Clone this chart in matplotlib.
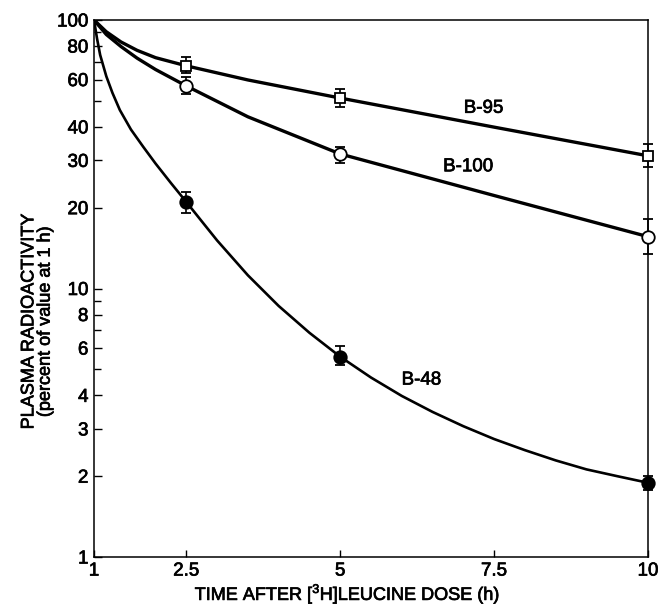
import matplotlib
matplotlib.use("Agg")
import matplotlib.pyplot as plt
import matplotlib.patheffects as pe
import numpy as np
from matplotlib.ticker import FixedLocator, NullFormatter

plt.rcParams['font.family'] = ['Liberation Sans', 'DejaVu Sans']
plt.rcParams['mathtext.fontset'] = 'custom'
plt.rcParams['mathtext.rm'] = 'Liberation Sans'

# measured points (mean, lower and upper end of error bar)
time = [2.5, 5, 10]
b95 = [67.4, 51.2, 31.2]
b95_lo = [63.5, 47.4, 28.3]
b95_hi = [72.8, 55.3, 34.5]
b100 = [56.8, 31.7, 15.6]
b100_lo = [53.0, 29.3, 13.4]
b100_hi = [61.3, 33.6, 18.1]
b48 = [21.0, 5.57, 1.89]
b48_lo = [19.1, 5.19, 1.78]
b48_hi = [22.9, 6.1, 2.0]

# drawn curves
b95_cx = [1.0, 1.2, 1.44, 1.7, 2.0, 2.5, 3.5, 5.0, 7.5, 10.0]
b95_cy = [100, 90.4, 82.8, 77.1, 72.4, 67.5, 59.8, 51.2, 39.9, 31.2]
b100_cx = [1.0, 1.2, 1.44, 1.7, 2.0, 2.5, 3.5, 5.0, 7.5, 10.0]
b100_cy = [100, 88.3, 79.6, 72.1, 65.4, 56.8, 43.6, 31.7, 22.2, 15.6]
b48_cx = [1.0, 1.05, 1.1, 1.2, 1.3, 1.42, 1.6, 1.8, 2.0, 2.25, 2.5, 2.75, 3.0,
          3.5, 4.0, 4.5, 5.0, 5.5, 6.0, 6.5, 7.0, 7.5, 8.0, 8.5, 9.0, 9.5, 10.0]
b48_cy = [100, 85.1, 74.1, 61.7, 53.5, 46.2, 39.1, 33.7, 29.2, 24.7, 21.0, 17.8, 15.1,
          11.2, 8.61, 6.84, 5.57, 4.66, 3.98, 3.47, 3.07, 2.75, 2.50, 2.29, 2.12, 2.00, 1.89]

xticks = [1, 2.5, 5, 7.5, 10]
xticklabels = ["1", "2.5", "5", "7.5", "10"]
yticks = [1, 2, 3, 4, 6, 8, 10, 20, 30, 40, 60, 80, 100]
yminor = [5, 7, 9, 50, 70, 90]

ink = [pe.withStroke(linewidth=0.5, foreground='black')]

fig = plt.figure(figsize=(6.58, 6.07), dpi=100)
ax = fig.add_axes([94/658, 50/607, 554/658, 537/607])
ax.set_yscale('log')
ax.set_xlim(1, 10)
ax.set_ylim(1, 100)

ax.plot(b95_cx, b95_cy, color='black', lw=2.4, zorder=2)
ax.plot(b100_cx, b100_cy, color='black', lw=2.4, zorder=2)
ax.plot(b48_cx, b48_cy, color='black', lw=1.9, zorder=2)

def draw(y, lo, hi, marker, face, ms):
    y = np.array(y)
    err = [y - np.array(lo), np.array(hi) - y]
    ax.errorbar(time, y, yerr=err, fmt=marker, mfc=face, mec='black', mew=1.3,
                ms=ms, ecolor='black', elinewidth=1.2, capsize=3.5, capthick=1.2,
                zorder=3, clip_on=False)

draw(b95, b95_lo, b95_hi, 's', 'white', 7.5)
draw(b100, b100_lo, b100_hi, 'o', 'white', 9)
draw(b48, b48_lo, b48_hi, 'o', 'black', 9)

for txt, x, y in [("B-95", 7.33, 46.9), ("B-100", 7.08, 28.4), ("B-48", 6.32, 4.56)]:
    ax.text(x, y, txt, fontsize=13.5, ha='center', va='center', path_effects=ink)

ax.yaxis.set_major_locator(FixedLocator(yticks))
ax.yaxis.set_minor_locator(FixedLocator(yminor))
ax.set_yticklabels([str(t) for t in yticks])
ax.yaxis.set_minor_formatter(NullFormatter())
ax.set_xticks(xticks)
ax.set_xticklabels(xticklabels)
ax.tick_params(axis='both', which='major', direction='in', length=6, width=1,
               labelsize=13.5, colors='black')
ax.tick_params(axis='y', which='major', pad=4)
ax.tick_params(axis='x', which='major', pad=4, length=5)
ax.tick_params(axis='y', which='minor', direction='in', length=5, width=1)
for lab in ax.get_xticklabels() + ax.get_yticklabels():
    lab.set_path_effects(ink)
for s in ax.spines.values():
    s.set_linewidth(1.1)

fig.text(347/658, 1 - 594/607, "TIME AFTER [$^{3}$H]LEUCINE DOSE (h)", fontsize=13,
         ha='center', va='center', path_effects=ink)
fig.text(37/658, 1 - 322/607, "PLASMA RADIOACTIVITY\n(percent of value at 1 h)",
         fontsize=13, ha='center', va='center', rotation=90, linespacing=0.95,
         multialignment='center', path_effects=ink)

fig.savefig("out.png", dpi=100)
